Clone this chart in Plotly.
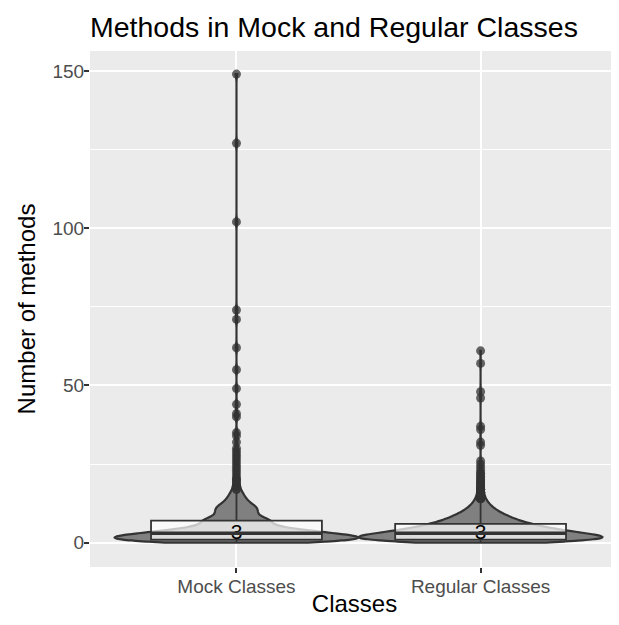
import numpy as np
import plotly.graph_objects as go

# ---------------- data ----------------
categories = ["Mock Classes", "Regular Classes"]

# frequency tables of number of methods (value -> count)
mock_values = [0, 1, 2, 3, 4, 5, 6, 7, 8, 9, 10, 11, 12, 13, 14, 15, 16]
mock_counts = [35, 75, 65, 50, 33, 22, 14, 22, 12, 10, 11, 11, 9, 6, 5, 4, 3]
mock_outliers = [17, 17, 18, 18, 19, 20, 20, 21, 22, 23, 24, 25, 26, 27, 28, 29, 30,
                 32, 34, 35, 40, 41, 44, 49, 55, 62, 71, 74, 102, 127, 149]

regular_values = [0, 1, 2, 3, 4, 5, 6, 7, 8, 9, 10, 11, 12, 13]
regular_counts = [50, 210, 160, 130, 100, 78, 62, 48, 38, 30, 22, 16, 12, 9]
regular_outliers = [14, 14, 14, 14, 14, 14, 15, 15, 15, 15, 15, 16, 16, 16, 16,
                    17, 17, 17, 17, 18, 18, 18, 19, 19, 19, 20, 20, 21, 21, 22, 22,
                    23, 24, 25, 26, 31, 32, 36, 37, 46, 48, 57, 61]

y_ticks = [0, 50, 100, 150]
y_minor = [25, 75, 125]

title_text = "Methods in Mock and Regular Classes"
x_title = "Classes"
y_title = "Number of methods"


def expand(values, counts, extra):
    return np.concatenate([np.repeat(values, counts), np.array(extra)]).astype(float)


mock = expand(mock_values, mock_counts, mock_outliers)
regular = expand(regular_values, regular_counts, regular_outliers)
series = [mock, regular]
bandwidths = [1.0, 1.1]

FONT = "Liberation Sans, Arial, Helvetica, sans-serif"
DARK = "#333333"
BOX_W = 0.7

# the page body has an 8px default margin; keep the figure inside the window
W, H, OFF = 619, 625, 8
FIG_W, FIG_H = W - OFF, H - 2 * OFF
PANEL_BOTTOM = 567  # window pixels

fig = go.Figure()

for cat, data, bw in zip(categories, series, bandwidths):
    fig.add_trace(go.Violin(
        x=[cat] * len(data), y=data,
        spanmode="hard", bandwidth=bw, scalemode="width", width=1.0,
        fillcolor="#808080", line=dict(color=DARK, width=2.2),
        points=False, box_visible=False, meanline_visible=False,
        opacity=1, showlegend=False, hoverinfo="skip",
    ))

for cat, data in zip(categories, series):
    fig.add_trace(go.Box(
        x=[cat] * len(data), y=data,
        width=BOX_W, quartilemethod="linear",
        fillcolor="rgba(255,255,255,0.72)",
        line=dict(color=DARK, width=1.8),
        whiskerwidth=0,
        boxpoints="outliers", pointpos=0, jitter=0,
        marker=dict(color="rgba(51,51,51,0.75)", size=9, line=dict(width=0)),
        showlegend=False, hoverinfo="skip",
    ))

medians = [float(np.median(d)) for d in series]

# thicker median bar, as in the original
for i, m in enumerate(medians):
    fig.add_shape(type="line", xref="x", yref="y",
                  x0=i - BOX_W / 2, x1=i + BOX_W / 2, y0=m, y1=m,
                  line=dict(color=DARK, width=3.4), layer="above")

fig.add_trace(go.Scatter(
    x=categories, y=medians, mode="text",
    text=[f"{m:g}" for m in medians],
    textposition="middle center",
    textfont=dict(size=21, color="black", family=FONT),
    showlegend=False, hoverinfo="skip",
))

fig.update_layout(
    width=FIG_W, height=FIG_H,
    margin=dict(l=90 - OFF, r=0, t=51 - OFF, b=FIG_H - (PANEL_BOTTOM - OFF)),
    paper_bgcolor="white", plot_bgcolor="#EBEBEB",
    font=dict(family=FONT),
    boxmode="overlay", violinmode="overlay",
    title=dict(text=title_text, font=dict(size=28.5, color="black", family=FONT),
               xref="paper", x=0, xanchor="left",
               yref="container", y=1 - (27 - OFF) / FIG_H, yanchor="middle"),
)

fig.update_xaxes(
    type="category", categoryorder="array", categoryarray=categories,
    range=[-0.6, 1.567],
    showgrid=True, gridcolor="white", gridwidth=1.6,
    ticks="outside", ticklen=5, tickwidth=1.5, tickcolor=DARK,
    ticklabelstandoff=-3,
    tickfont=dict(size=19, color="#4D4D4D", family=FONT),
    title=dict(text=x_title, font=dict(size=24, color="black", family=FONT), standoff=4),
    showline=False, zeroline=False, automargin=False,
)

fig.update_yaxes(
    range=[-7.73, 156.35],
    tickvals=y_ticks, ticktext=[str(v) for v in y_ticks],
    showgrid=True, gridcolor="white", gridwidth=1.6,
    minor=dict(tickvals=y_minor, showgrid=True, gridcolor="white", gridwidth=0.8, ticks=""),
    ticks="outside", ticklen=5, tickwidth=1.5, tickcolor=DARK,
    ticklabelstandoff=-4,
    tickfont=dict(size=19, color="#4D4D4D", family=FONT),
    title=dict(text=y_title, font=dict(size=24, color="black", family=FONT), standoff=10),
    showline=False, zeroline=False, automargin=False,
)

fig.write_html("out.html")
